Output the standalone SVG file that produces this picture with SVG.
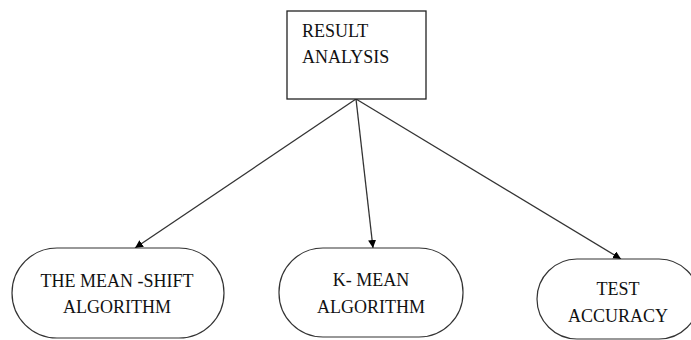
<svg xmlns="http://www.w3.org/2000/svg" width="691" height="340" viewBox="0 0 691 340">
<defs>
<style>
.box{fill:#fff;stroke:#222;stroke-width:1.3}
.node{fill:#fff;stroke:#333;stroke-width:1.2}
.c{text-anchor:middle}
.edge{stroke:#333;stroke-width:1.3;fill:none;marker-end:url(#arr)}
</style>
<marker id="arr" viewBox="0 0 10 10" refX="10" refY="5" markerWidth="8" markerHeight="8" markerUnits="userSpaceOnUse" orient="auto">
<path d="M0,0 L10,5 L0,10 z" fill="#000"/>
</marker>
</defs>
<rect width="691" height="340" fill="#fff"/>
<g id="connectors">
<line class="edge" x1="356" y1="99" x2="135" y2="248"/>
<line class="edge" x1="356" y1="99" x2="373" y2="248"/>
<line class="edge" x1="356" y1="99" x2="621" y2="259"/>
</g>
<g font-family="Liberation Serif, DejaVu Serif, serif" font-size="18" fill="#111">
<g id="result-analysis">
<rect class="box" x="287" y="11" width="139" height="88"/>
<text x="302" y="37">RESULT</text>
<text x="302" y="63">ANALYSIS</text>
</g>
<g id="mean-shift">
<rect class="node" x="12" y="248" width="212" height="90" rx="45" ry="45"/>
<text class="c" x="117" y="287">THE MEAN -SHIFT</text>
<text class="c" x="117" y="313">ALGORITHM</text>
</g>
<g id="k-mean">
<rect class="node" x="279" y="248" width="184" height="89" rx="44" ry="44"/>
<text class="c" x="371" y="286">K- MEAN</text>
<text class="c" x="371" y="313">ALGORITHM</text>
</g>
<g id="test-accuracy">
<rect class="node" x="537" y="259" width="162" height="80" rx="40" ry="40"/>
<text class="c" x="618" y="295">TEST</text>
<text class="c" x="618" y="322">ACCURACY</text>
</g>
</g>
</svg>
